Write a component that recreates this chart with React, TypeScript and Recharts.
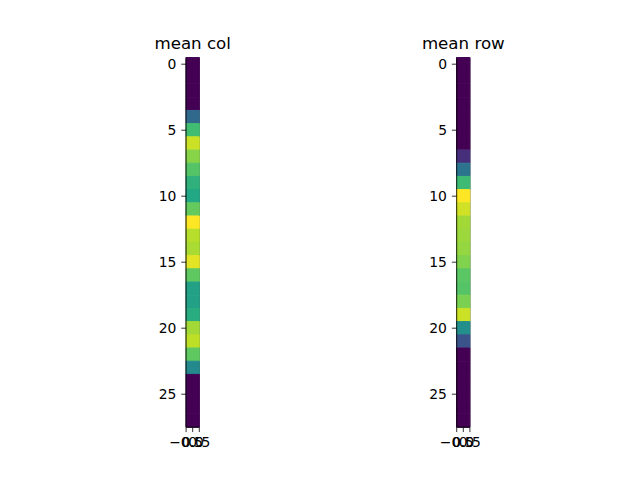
import React from "react";
import {
  BarChart,
  Bar,
  Cell,
  XAxis,
  YAxis,
  ReferenceArea,
} from "recharts";

// row index of each pixel in the 28x1 images
const rows = [
  0, 1, 2, 3, 4, 5, 6, 7, 8, 9, 10, 11, 12, 13, 14, 15, 16, 17, 18, 19, 20,
  21, 22, 23, 24, 25, 26, 27,
];

// normalised intensities (0 = darkest, 1 = brightest)
const meanCol = [
  0, 0, 0, 0, 0.34, 0.69, 0.92, 0.82, 0.73, 0.64, 0.6, 0.76, 1.0, 0.89, 0.87,
  0.96, 0.75, 0.57, 0.57, 0.62, 0.86, 0.9, 0.75, 0.47, 0, 0, 0, 0,
];
const meanRow = [
  0, 0, 0, 0, 0, 0, 0, 0.13, 0.38, 0.68, 1.0, 0.93, 0.86, 0.85, 0.84, 0.81,
  0.74, 0.73, 0.8, 0.92, 0.49, 0.26, 0, 0, 0, 0, 0, 0,
];

const yTicks = [0, 5, 10, 15, 20, 25];
const xTicks = [-0.5, 0, 0.5];

const VIRIDIS = [
  "#440154", "#482475", "#414487", "#355f8d", "#2a788e", "#21918c",
  "#22a884", "#44bf70", "#7ad151", "#bddf26", "#fde725",
];

const hexToRgb = (h: string) => [
  parseInt(h.slice(1, 3), 16),
  parseInt(h.slice(3, 5), 16),
  parseInt(h.slice(5, 7), 16),
];

const viridis = (v: number) => {
  const t = Math.max(0, Math.min(1, v)) * (VIRIDIS.length - 1);
  const i = Math.min(Math.floor(t), VIRIDIS.length - 2);
  const f = t - i;
  const a = hexToRgb(VIRIDIS[i]);
  const b = hexToRgb(VIRIDIS[i + 1]);
  const c = a.map((x, k) => Math.round(x + (b[k] - x) * f));
  return `rgb(${c[0]},${c[1]},${c[2]})`;
};

const FONT = "DejaVu Sans";
const tickStyle = { fill: "#000", fontSize: 13.9, fontFamily: FONT };
const fmt = (v: number) => (v < 0 ? "\u2212" + Math.abs(v).toFixed(1) : v.toFixed(1));

interface PanelProps {
  title: string;
  values: number[];
  left: number;
  marginLeft: number;
  marginRight: number;
}

const Panel: React.FC<PanelProps> = ({ title, values, left, marginLeft, marginRight }) => {
  const data = rows.map((r, i) => ({ row: r, span: [-0.5, 0.5], value: values[i] }));
  const yAxisW = 50;
  const plotLeft = marginLeft + yAxisW;
  const plotW = 320 - plotLeft - marginRight;
  return (
    <div style={{ position: "absolute", left, top: 0, width: 320, height: 480 }}>
      <div
        style={{
          position: "absolute",
          left: plotLeft + plotW / 2 - 100,
          width: 200,
          top: 35.5,
          textAlign: "center",
          fontSize: 16.67,
          lineHeight: "16.67px",
          fontFamily: FONT,
          color: "#000",
          whiteSpace: "nowrap",
        }}
      >
        {title}
      </div>
      <BarChart
        width={320}
        height={480}
        data={data}
        layout="vertical"
        barCategoryGap={0}
        margin={{ top: 57.6, right: marginRight, bottom: 22.8, left: marginLeft }}
      >
        <XAxis
          type="number"
          domain={[-0.5, 0.5]}
          ticks={xTicks}
          interval={0}
          tickFormatter={fmt}
          tick={tickStyle}
          tickSize={4.86}
          tickMargin={4.86}
          height={30}
          axisLine={{ stroke: "#000", strokeWidth: 0.8 }}
          tickLine={{ stroke: "#000", strokeWidth: 0.8 }}
        />
        <YAxis
          type="number"
          dataKey="row"
          domain={[-0.5, 27.5]}
          ticks={yTicks}
          interval={0}
          tick={tickStyle}
          tickSize={4.86}
          tickMargin={4.86}
          width={yAxisW}
          axisLine={{ stroke: "#000", strokeWidth: 0.8 }}
          tickLine={{ stroke: "#000", strokeWidth: 0.8 }}
        />
        <Bar dataKey="span" isAnimationActive={false}>
          {data.map((d) => (
            <Cell
              key={d.row}
              fill={viridis(d.value)}
              stroke={viridis(d.value)}
              strokeWidth={1}
            />
          ))}
        </Bar>
        <ReferenceArea
          x1={-0.5}
          x2={0.5}
          y1={-0.5}
          y2={27.5}
          fill="none"
          fillOpacity={0}
          stroke="#000"
          strokeWidth={0.8}
          ifOverflow="visible"
        />
      </BarChart>
    </div>
  );
};

export default function App() {
  return (
    <div
      style={{
        position: "absolute",
        left: 0,
        top: 0,
        width: 640,
        height: 480,
        background: "#fff",
        fontFamily: FONT,
      }}
    >
      <Panel title="mean col" values={meanCol} left={0} marginLeft={136.1} marginRight={120.7} />
      <Panel title="mean row" values={meanRow} left={320} marginLeft={86.7} marginRight={170.1} />
    </div>
  );
}
